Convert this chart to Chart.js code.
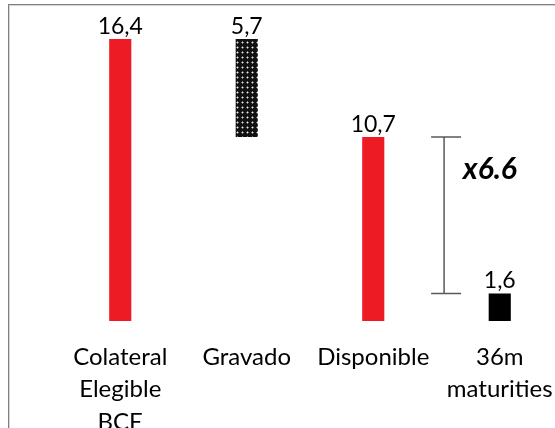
<!DOCTYPE html>
<html>
<head>
<meta charset="utf-8">
<script src="https://cdn.jsdelivr.net/npm/chart.js@4/dist/chart.umd.min.js"></script>
<style>
  html, body { margin: 0; padding: 0; width: 555px; height: 428px; overflow: hidden; background: #fff; }
  #frame { position: absolute; left: 8px; top: 4px; width: 600px; height: 500px;
           border-left: 1px solid #808080; border-top: 1px solid #808080;
           box-shadow: inset 1px 1px 0 #d4d4d4; }
  #chart { position: absolute; left: 0; top: 0; }
</style>
</head>
<body>
<div id="frame"></div>
<canvas id="chart" width="580" height="445"></canvas>
<script>
const categories = [['Colateral', 'Elegible', 'BCE'], 'Gravado', 'Disponible', ['36m', 'maturities']];
const barRanges = [[0, 16.4], [10.7, 16.4], [0, 10.7], [0, 1.6]];
const valueLabels = ['16,4', '5,7', '10,7', '1,6'];
const ratioLabel = 'x6.6';
const bracketFrom = 10.7;
const bracketTo = 1.6;

// dotted fill for "Gravado"
function dotPattern() {
    const c = document.createElement('canvas');
    c.width = 5; c.height = 5;
    const g = c.getContext('2d');
    g.fillStyle = '#111';
    g.fillRect(0, 0, 5, 5);
    g.fillStyle = '#7a7a7a';
    g.fillRect(1, 2, 3, 1);
    g.fillRect(2, 1, 1, 3);
    g.fillStyle = '#e8e8e8';
    g.fillRect(2, 2, 1, 1);
    return g.createPattern(c, 'repeat');
}

const ctx = document.getElementById('chart').getContext('2d');
const barColors = ['#ED1C24', dotPattern(), '#ED1C24', '#000000'];

const labelsPlugin = {
    id: 'valueLabels',
    afterDatasetsDraw(chart) {
        const c = chart.ctx;
        const meta = chart.getDatasetMeta(0);
        c.save();
        c.fillStyle = '#000';
        c.font = '23px Lato';
        c.textAlign = 'center';
        c.textBaseline = 'alphabetic';
        meta.data.forEach((bar, i) => {
            c.fillText(valueLabels[i], bar.x, bar.y - 5);
        });

        // bracket between Disponible and 36m maturities
        const x = chart.scales.x;
        const y = chart.scales.y;
        const catW = x.getPixelForValue(3) - x.getPixelForValue(2);
        const bx = x.getPixelForValue(2) + 0.56 * catW;
        const y1 = y.getPixelForValue(bracketFrom);
        const y2 = y.getPixelForValue(bracketTo);
        c.strokeStyle = '#595959';
        c.lineWidth = 1.5;
        c.beginPath();
        c.moveTo(bx, y1); c.lineTo(bx, y2);
        c.moveTo(bx - 13, y1); c.lineTo(bx + 17, y1);
        c.moveTo(bx - 13, y2); c.lineTo(bx + 17, y2);
        c.stroke();

        c.font = 'italic bold 30px Lato';
        c.textAlign = 'left';
        c.textBaseline = 'middle';
        c.fillText(ratioLabel, bx + 19, y1 + 32);
        c.restore();
    }
};

new Chart(ctx, {
    type: 'bar',
    data: {
        labels: categories,
        datasets: [{
            data: barRanges,
            backgroundColor: barColors,
            borderWidth: 0,
            barPercentage: 0.175,
            categoryPercentage: 1
        }]
    },
    options: {
        responsive: false,
        animation: false,
        layout: { padding: { top: 39, left: 57, right: 17, bottom: 0 } },
        plugins: { legend: { display: false }, tooltip: { enabled: false } },
        scales: {
            x: {
                grid: { display: false, drawTicks: false },
                border: { display: false },
                afterFit: (s) => { s.height = 124; },
                ticks: {
                    color: '#000',
                    padding: 20,
                    maxRotation: 0,
                    autoSkip: false,
                    font: { family: 'Lato', size: 24, lineHeight: 1.35 }
                }
            },
            y: { display: false, min: 0, max: 16.4 }
        }
    },
    plugins: [labelsPlugin]
});
</script>
</body>
</html>
